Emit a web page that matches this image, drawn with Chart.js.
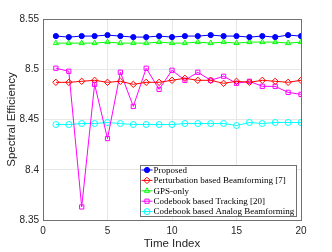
<!DOCTYPE html>
<html><head><meta charset="utf-8">
<script src="https://cdn.jsdelivr.net/npm/chart.js@4"></script>
<style>html,body{margin:0;padding:0;background:#fff}#wrap{width:332px;height:252px}</style>
</head><body><div id="wrap"><canvas id="c" width="332" height="252"></canvas></div>
<script>
const timeIndex = [1,2,3,4,5,6,7,8,9,10,11,12,13,14,15,16,17,18,19,20];
const proposed = [8.533,8.532,8.533,8.533,8.534,8.533,8.532,8.532,8.533,8.532,8.533,8.533,8.534,8.533,8.533,8.532,8.533,8.532,8.534,8.533];
const perturbation = [8.487,8.487,8.488,8.489,8.487,8.488,8.485,8.487,8.487,8.489,8.491,8.489,8.489,8.486,8.488,8.487,8.489,8.488,8.487,8.489];
const gpsOnly = [8.526,8.526,8.526,8.526,8.527,8.526,8.526,8.526,8.527,8.526,8.526,8.527,8.526,8.527,8.526,8.527,8.527,8.527,8.526,8.527];
const cbTracking = [8.501,8.498,8.363,8.485,8.431,8.497,8.463,8.501,8.480,8.499,8.489,8.497,8.489,8.493,8.486,8.488,8.483,8.483,8.477,8.475];
const cbAnalog = [8.445,8.445,8.446,8.446,8.447,8.446,8.445,8.445,8.445,8.445,8.446,8.446,8.446,8.446,8.444,8.447,8.446,8.447,8.447,8.447];
const seriesLabels = ['Proposed','Perturbation based Beamforming [7]','GPS-only','Codebook based Tracking [20]','Codebook based Analog Beamforming'];
const yTickLabels = ['8.35','8.4','8.45','8.5','8.55'];
const xTickLabels = ['0','5','10','15','20'];

const NONE = 'rgba(255,255,255,0)';
const pts = arr => arr.map((v,i)=>({x:timeIndex[i], y:v}));
function mk(label, data, color, style, fill, r){
  return {label, data:pts(data), borderColor:color, backgroundColor: fill?color:NONE,
    pointStyle:style, pointRadius:r, pointBorderColor:color, pointBackgroundColor: fill?color:NONE,
    pointBorderWidth:1, borderWidth:1, tension:0};
}
const datasets = [
  mk(seriesLabels[0], proposed, '#0000ff', 'circle', true, 2.6),
  mk(seriesLabels[1], perturbation, '#ff0000', 'rectRot', false, 3.2),
  mk(seriesLabels[2], gpsOnly, '#00ff00', 'triangle', false, 3),
  mk(seriesLabels[3], cbTracking, '#ff00ff', 'rect', false, 3),
  mk(seriesLabels[4], cbAnalog, '#00ffff', 'circle', false, 3)
];

const frame = {
  id:'frame',
  afterDraw(chart){
    const {ctx, chartArea:a} = chart;
    ctx.save();
    ctx.strokeStyle = '#707070'; ctx.lineWidth = 1;
    ctx.strokeRect(Math.round(a.left)+0.5, Math.round(a.top)+0.5, Math.round(a.right-a.left), Math.round(a.bottom-a.top));
    // legend
    const lx = 140.5, ly = 165.5, lw = 156, lh = 51;
    ctx.fillStyle = '#fff'; ctx.fillRect(lx, ly, lw, lh);
    ctx.strokeStyle = '#707070'; ctx.strokeRect(lx, ly, lw, lh);
    ctx.font = '9px "Liberation Serif"'; ctx.textBaseline = 'middle'; ctx.textAlign='left';
    chart.data.datasets.forEach((ds,i)=>{
      const y = ly + 4.5 + i*10.4;
      ctx.strokeStyle = ds.borderColor; ctx.lineWidth = 1;
      ctx.beginPath(); ctx.moveTo(lx+1, y); ctx.lineTo(lx+12, y); ctx.stroke();
      ctx.fillStyle = ds.pointBackgroundColor;
      Chart.helpers.drawPoint(ctx, {pointStyle: ds.pointStyle, radius: ds.pointRadius, borderWidth:1, rotation:0}, lx+6.5, y);
      ctx.fillStyle = '#000';
      ctx.fillText(ds.label, lx+13, y+0.5);
    });
    ctx.restore();
  }
};

new Chart(document.getElementById('c'), {
  type:'line',
  data:{datasets},
  options:{
    responsive:false, animation:false, devicePixelRatio:1,
    layout:{padding:{left:0, top:19, right:31, bottom:0}},
    plugins:{legend:{display:false}, tooltip:{enabled:false}},
    scales:{
      x:{type:'linear', min:0, max:20,
        afterFit(s){s.height = 32;},
        grid:{color:'#e8e8e8', drawTicks:false},
        border:{display:false},
        ticks:{stepSize:5, padding:5, color:'#262626', font:{family:'"Liberation Sans"', size:10},
          callback:(v)=>{const i=[0,5,10,15,20].indexOf(v); return i>=0?xTickLabels[i]:'';}},
        title:{display:true, text:'Time Index', color:'#262626', font:{family:'"Liberation Sans"', size:11.5}, padding:{top:0,bottom:1}}
      },
      y:{min:8.35, max:8.55,
        afterFit(s){s.width = 43;},
        grid:{color:'#e8e8e8', drawTicks:false},
        border:{display:false},
        ticks:{stepSize:0.05, padding:4, color:'#262626', font:{family:'"Liberation Sans"', size:10},
          callback:(v)=>{const i=Math.round((v-8.35)/0.05); return yTickLabels[i];}},
        title:{display:true, text:'Spectral Efficiency', color:'#262626', font:{family:'"Liberation Sans"', size:11.5}, padding:{top:5,bottom:0}}
      }
    }
  },
  plugins:[frame]
});
</script></body></html>
